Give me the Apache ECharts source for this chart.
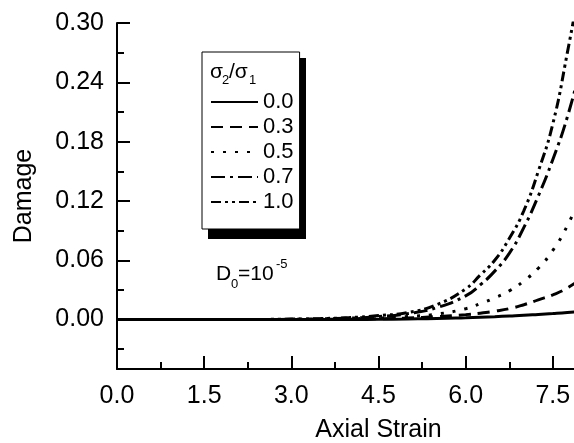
<!DOCTYPE html>
<html>
<head>
<meta charset="utf-8">
<script src="https://cdn.jsdelivr.net/npm/echarts@6/dist/echarts.min.js"></script>
<style>
  html, body { margin: 0; padding: 0; background: #fff; }
  #chart { width: 574px; height: 443px; }
</style>
</head>
<body>
<div id="chart"></div>
<script>
// axial strain (x) shared by all curves
var strain = [0, 1, 2, 3, 3.5, 4, 4.5, 5, 5.5, 6, 6.25, 6.5, 6.75, 7, 7.25, 7.5, 7.75, 8];
// damage, one array per sigma2/sigma1 ratio
var dmg00 = [0, 0, 0, 0, 0, 0, 0.0003, 0.0006, 0.001, 0.0018, 0.0023, 0.0029, 0.0036, 0.0043, 0.0052, 0.0061, 0.0071, 0.0083];
var dmg03 = [0, 0, 0, 0.0001, 0.0002, 0.0004, 0.0008, 0.0015, 0.003, 0.005, 0.0065, 0.0085, 0.011, 0.015, 0.020, 0.025, 0.032, 0.042];
var dmg05 = [0, 0, 0, 0.0002, 0.0004, 0.0008, 0.0015, 0.003, 0.0055, 0.011, 0.016, 0.022, 0.029, 0.039, 0.052, 0.070, 0.095, 0.128];
var dmg07 = [0, 0, 0, 0.0003, 0.0007, 0.0015, 0.003, 0.006, 0.012, 0.024, 0.035, 0.049, 0.067, 0.093, 0.125, 0.162, 0.205, 0.26];
var dmg10 = [0, 0, 0, 0.0005, 0.001, 0.002, 0.004, 0.007, 0.015, 0.031, 0.045, 0.060, 0.082, 0.110, 0.150, 0.198, 0.270, 0.35];

var ratioNames = ['0.0', '0.3', '0.5', '0.7', '1.0'];
var ratioData = [dmg00, dmg03, dmg05, dmg07, dmg10];
// dash patterns: solid, dash, dot, dash-dot, dash-dot-dot
var dashes = ['solid', [12, 7], [3, 9], [14, 5, 3, 5], [10, 4, 3, 4, 3, 4]];

var FONT = '"Liberation Sans", Arial, sans-serif';

function pairs(ys) {
	var out = [];
	for (var i = 0; i < strain.length; i++) {
		out.push([strain[i], ys[i]]);
	}
	return out;
}

// small helper for the free text pieces (legend title, D0 note)
function txt(str, x, y, size) {
	return {
		type : 'text', z : 30, x : x, y : y,
		style : { text : str, fontFamily : FONT, fontSize : size, fill : '#000', align : 'left', verticalAlign : 'top' }
	};
}

var chart = echarts.init(document.getElementById('chart'));

var series = [];
for (var i = 0; i < ratioNames.length; i++) {
	series.push({
		name : ratioNames[i],
		type : 'line',
		smooth : true,
		symbol : 'none',
		clip : true,
		data : pairs(ratioData[i]),
		itemStyle : { color : '#000', opacity : 0 },
		lineStyle : { color : '#000', width : 3, type : dashes[i], cap : 'butt' },
		z : 10 - i
	});
}

var option = {
	animation : false,
	backgroundColor : '#fff',
	grid : { left : 117, top : 23, right : -66, bottom : 74, containLabel : false, outerBoundsMode : 'none' },
	legend : {
		orient : 'vertical',
		left : 202,
		top : 52,
		z : 20,
		padding : [39, 6, 16, 8],
		itemWidth : 47,
		itemHeight : 14,
		itemGap : 3,
		backgroundColor : '#fff',
		borderColor : '#000',
		borderWidth : 1,
		itemStyle : { opacity : 0 },
		textStyle : { fontFamily : FONT, fontSize : 22, color : '#000' },
		data : ratioNames
	},
	xAxis : {
		type : 'value',
		min : 0,
		max : 9,
		interval : 1.5,
		name : 'Axial Strain',
		nameLocation : 'middle',
		nameGap : 49,
		nameTextStyle : { fontFamily : FONT, fontSize : 25, color : '#000' },
		axisLine : { onZero : false, lineStyle : { color : '#000', width : 2 } },
		axisTick : { inside : true, length : 13, lineStyle : { color : '#000', width : 2 } },
		minorTick : { show : true, splitNumber : 2, length : 7, lineStyle : { color : '#000', width : 2 } },
		splitLine : { show : false },
		axisLabel : {
			margin : 15,
			fontFamily : FONT,
			fontSize : 25,
			color : '#000',
			showMaxLabel : false,
			formatter : function(v) { return v.toFixed(1); }
		}
	},
	yAxis : [ {
		type : 'value',
		min : -0.05,
		max : 0.30,
		minInterval : 0.06,
		maxInterval : 0.06,
		name : 'Damage',
		nameLocation : 'middle',
		nameGap : 80,
		nameTextStyle : { fontFamily : FONT, fontSize : 25, color : '#000' },
		axisLine : { lineStyle : { color : '#000', width : 2 } },
		axisTick : { inside : true, length : 13, lineStyle : { color : '#000', width : 2 } },
		splitLine : { show : false },
		axisLabel : {
			margin : 13,
			fontFamily : FONT,
			fontSize : 25,
			color : '#000',
			showMinLabel : false,
			formatter : function(v) { return v.toFixed(2); }
		}
	}, {
		// second axis only for the short minor ticks every 0.03
		type : 'value',
		position : 'left',
		min : -0.05,
		max : 0.30,
		minInterval : 0.03,
		maxInterval : 0.03,
		axisLine : { show : false },
		axisTick : { inside : true, length : 7, lineStyle : { color : '#000', width : 2 } },
		axisLabel : { show : false },
		splitLine : { show : false }
	} ],
	graphic : [
		// drop shadow behind the legend box
		{ type : 'rect', z : 10, shape : { x : 208, y : 58, width : 98, height : 181 }, style : { fill : '#000' } },
		// legend title sigma2/sigma1
		txt('σ', 210, 62, 21),
		txt('2', 222, 74, 13),
		txt('/σ', 229, 62, 21),
		txt('1', 249, 74, 13),
		// D0 = 10^-5
		txt('D', 216, 264, 21),
		txt('0', 231, 278, 13),
		txt('=10', 238, 264, 21),
		txt('-5', 276, 258, 13)
	],
	series : series
};

chart.setOption(option);
</script>
</body>
</html>
